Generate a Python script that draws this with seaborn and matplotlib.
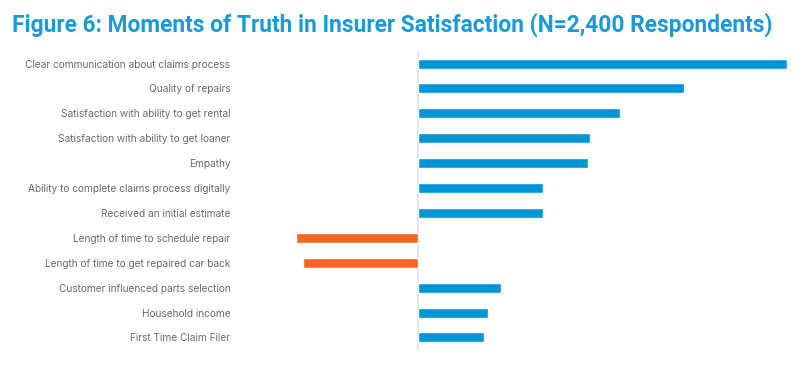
import matplotlib
matplotlib.use("Agg")
import matplotlib.pyplot as plt
import seaborn as sns
import pandas as pd

# data (relative impact, arbitrary units)
factors = [
    "Clear communication about claims process",
    "Quality of repairs",
    "Satisfaction with ability to get rental",
    "Satisfaction with ability to get loaner",
    "Empathy",
    "Ability to complete claims process digitally",
    "Received an initial estimate",
    "Length of time to schedule repair",
    "Length of time to get repaired car back",
    "Customer influenced parts selection",
    "Household income",
    "First Time Claim Filer",
]
impact = [3.69, 2.66, 2.02, 1.72, 1.70, 1.25, 1.25, -1.22, -1.15, 0.83, 0.70, 0.66]

BLUE = "#0096d6"
ORANGE = "#f26522"

df = pd.DataFrame({"factor": factors, "impact": impact})
df["sign"] = ["pos" if v >= 0 else "neg" for v in impact]

sns.set_theme(style="white")
plt.rcParams["font.family"] = ["Inter", "DejaVu Sans"]

fig = plt.figure(figsize=(8, 3.73), dpi=100)
ax = fig.add_axes([0.30, 0.062, 0.688, 0.801])

sns.barplot(data=df, x="impact", y="factor", hue="sign",
            palette={"pos": BLUE, "neg": ORANGE}, width=0.4, saturation=1,
            dodge=False, legend=False, ax=ax, orient="h")

ax.set_xlim(-1.78, 3.72)
ax.set_ylim(11.5, -0.5)
ax.axvline(0, color="#dde3ee", lw=1.2, zorder=0)

for s in ax.spines.values():
    s.set_visible(False)
ax.set_xticks([])
ax.set_xlabel("")
ax.set_ylabel("")
ax.tick_params(axis="y", length=0, pad=7, labelsize=7.3, labelcolor="#6b6b6b")

fig.text(0.015, 0.933, "Figure 6: Moments of Truth in Insurer Satisfaction (N=2,400 Respondents)",
         color="#1a9ad6", fontsize=16.4, fontweight="bold", family=["Roboto", "DejaVu Sans"],
         va="center")

fig.savefig("out.png", dpi=100)
